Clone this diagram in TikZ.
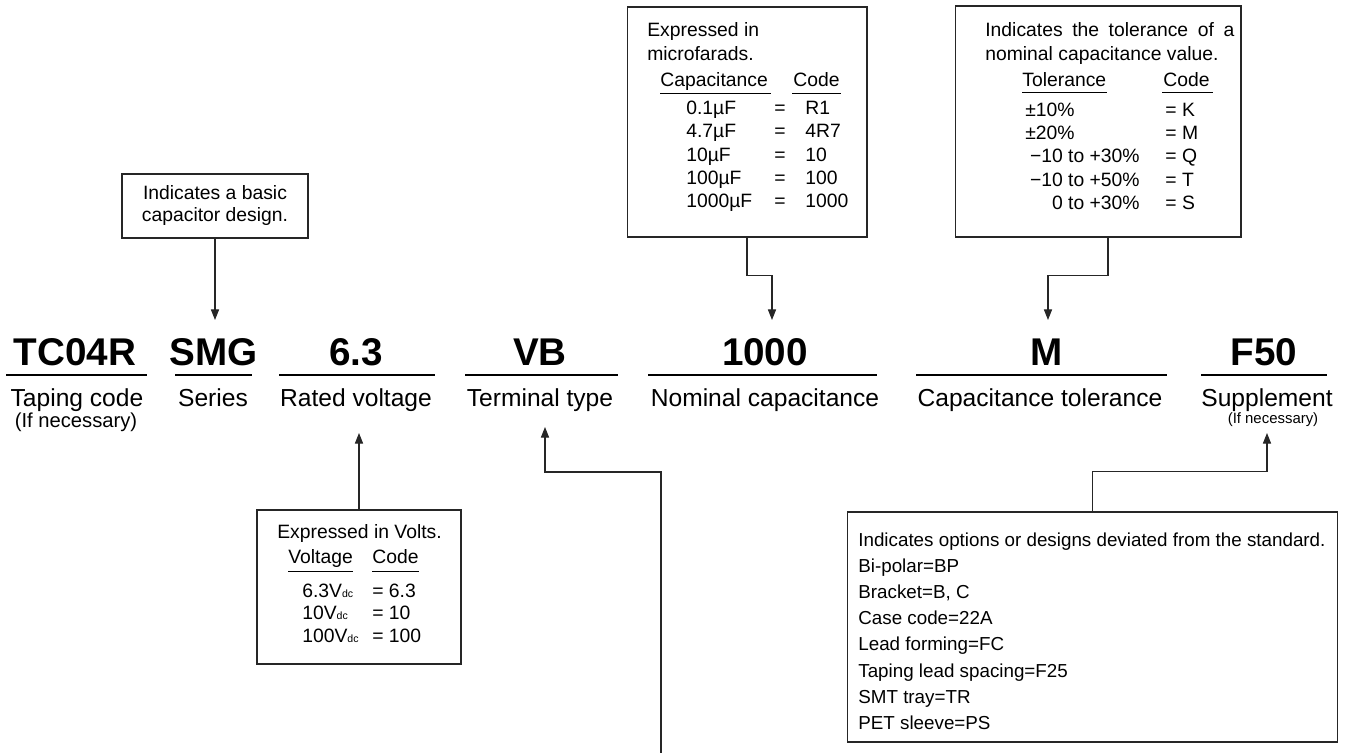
\documentclass[tikz,border=0pt]{standalone}
\usepackage{fontspec}
\setmainfont{Liberation Sans}
\usetikzlibrary{arrows.meta,calc}

\newcommand\codesize{\fontsize{22}{26}\selectfont\bfseries}
\newcommand\labsize{\fontsize{14}{16}\selectfont}
\newcommand\notesize{\fontsize{11.5}{13}\selectfont}
\newcommand\tinynote{\fontsize{8.5}{10}\selectfont}
\newcommand\boxsize{\fontsize{11}{13}\selectfont}
\newcommand\supsize{\fontsize{10.7}{13}\selectfont}
\newcommand\dcsub{{\fontsize{6}{6}\selectfont dc}}

\begin{document}
\begin{tikzpicture}[x=0.02cm,y=-0.02cm,
  every node/.style={inner sep=0pt},
  infobox/.style={draw=black!85,line width=0.6pt},
  code/.style={font=\codesize,anchor=base},
  lab/.style={font=\labsize,anchor=base},
  txt/.style={font=\boxsize,anchor=base west},
  arr/.style={draw=black!85,line width=0.6pt,-{Triangle[length=6pt,width=4.6pt]}},
  uline/.style={line width=0.8pt}]
\useasboundingbox (0,0) rectangle (1353,753);
%\draw [red!40,step=1cm] (0,0) grid (1353,753);

% part number
\node[code] (taping) at (75,365) {TC04R};
\node[code] (series) at (214,365) {SMG};
\node[code] (volt) at (356,365) {6.3};
\node[code] (term) at (540,365) {VB};
\node[code] (cap) at (765,365) {1000};
\node[code] (tol) at (1047,365) {M};
\node[code] (supp) at (1264,365) {F50};
\draw[uline] (6,375) -- (147,375);
\draw[uline] (175,375) -- (252,375);
\draw[uline] (279,375) -- (435,375);
\draw[uline] (465,375) -- (618,375);
\draw[uline] (648,375) -- (877,375);
\draw[uline] (916,375) -- (1167,375);
\draw[uline] (1201,375) -- (1327,375);

\node[lab] (tapinglab) at (77,406) {Taping code};
\node[anchor=base,font=\notesize] (tapingnote) at (76,427) {(If necessary)};
\node[lab] (serieslab) at (213,406) {Series};
\node[lab] (voltlab) at (356,406) {Rated voltage};
\node[lab] (termlab) at (540,406) {Terminal type};
\node[lab] (caplab) at (765,406) {Nominal capacitance};
\node[lab] (tollab) at (1040,406) {Capacitance tolerance};
\node[lab] (supplab) at (1267,406) {Supplement};
\node[anchor=base,font=\tinynote] (suppnote) at (1273,423) {(If necessary)};

% series
\node[infobox,minimum width=3.72cm,minimum height=1.28cm] (smgbox) at (215,206) {};
\node[anchor=base,font=\boxsize] (smgtxt1) at (215,200) {Indicates a basic};
\node[anchor=base,font=\boxsize] (smgtxt2) at (215,222) {capacitor design.};

% capacitance
\node[infobox,minimum width=4.8cm,minimum height=4.6cm] (capbox) at (747,122) {};
\node[txt] (captxt1) at (647,37) {Expressed in};
\node[txt] (captxt2) at (647,61) {microfarads.};
\node[txt] (caphd1) at (660,87) {Capacitance};
\node[txt] (caphd2) at (793,87) {Code};
\draw ($(caphd1.base west)+(0,6)$) -- ($(caphd1.base east)+(3,6)$);
\draw ($(caphd2.base west)+(-1,6)$) -- ($(caphd2.base east)+(1,6)$);
\node[txt] (capv1) at (686,115) {0.1µF};
\node[txt] (capv2) at (686,138) {4.7µF};
\node[txt] (capv3) at (686,162) {10µF};
\node[txt] (capv4) at (686,185) {100µF};
\node[txt] (capv5) at (686,208) {1000µF};
\node[txt] (cape1) at (774,115) {=};
\node[txt] (cape2) at (774,138) {=};
\node[txt] (cape3) at (774,162) {=};
\node[txt] (cape4) at (774,185) {=};
\node[txt] (cape5) at (774,208) {=};
\node[txt] (capc1) at (805,115) {R1};
\node[txt] (capc2) at (805,138) {4R7};
\node[txt] (capc3) at (805,162) {10};
\node[txt] (capc4) at (805,185) {100};
\node[txt] (capc5) at (805,208) {1000};

% tolerance
\node[infobox,minimum width=5.72cm,minimum height=4.62cm] (tolbox) at (1098,121.5) {};
\node[txt] (toltxt1) at (985,37) {\hbox to 4.98cm{Indicates the tolerance of a}};
\node[txt] (toltxt2) at (985,61) {nominal capacitance value.};
\node[txt] (tolhd1) at (1022,87) {Tolerance};
\node[txt] (tolhd2) at (1163,87) {Code};
\draw ($(tolhd1.base west)+(0,5)$) -- ($(tolhd1.base east)+(0,5)$);
\draw ($(tolhd2.base west)+(-1,5)$) -- ($(tolhd2.base east)+(3,5)$);
\node[txt] (tolv1) at (1025,117) {±10\%};
\node[txt] (tolv2) at (1025,140) {±20\%};
\node[txt,anchor=base east] (tolv3) at (1140,163) {−10 to +30\%};
\node[txt,anchor=base east] (tolv4) at (1140,187) {−10 to +50\%};
\node[txt,anchor=base east] (tolv5) at (1140,210) {0 to +30\%};
\node[txt] (tolc1) at (1165,117) {= K};
\node[txt] (tolc2) at (1165,140) {= M};
\node[txt] (tolc3) at (1165,163) {= Q};
\node[txt] (tolc4) at (1165,187) {= T};
\node[txt] (tolc5) at (1165,210) {= S};

% rated voltage
\node[infobox,minimum width=4.08cm,minimum height=3.08cm] (voltbox) at (359,587) {};
\node[txt] (volttxt) at (277,538) {Expressed in Volts.};
\node[txt] (volthd1) at (288,563) {Voltage};
\node[txt] (volthd2) at (372,563) {Code};
\draw ($(volthd1.base west)+(0,8)$) -- ($(volthd1.base east)+(0,8)$);
\draw ($(volthd2.base west)+(0,8)$) -- ($(volthd2.base east)+(0,8)$);
\node[txt] (voltv1) at (302,597) {6.3V\dcsub};
\node[txt] (voltv2) at (302,619) {10V\dcsub};
\node[txt] (voltv3) at (302,642) {100V\dcsub};
\node[txt] (voltc1) at (372,597) {= 6.3};
\node[txt] (voltc2) at (372,619) {= 10};
\node[txt] (voltc3) at (372,642) {= 100};

% supplement
\node[infobox,minimum width=9.82cm,minimum height=4.6cm] (supbox) at (1092.5,627) {};
\node[txt,font=\supsize] (suptxt1) at (858,546) {Indicates options or designs deviated from the standard.};
\node[txt,font=\supsize] (suptxt2) at (858,572) {Bi-polar=BP};
\node[txt,font=\supsize] (suptxt3) at (858,598) {Bracket=B, C};
\node[txt,font=\supsize] (suptxt4) at (858,624) {Case code=22A};
\node[txt,font=\supsize] (suptxt5) at (858,650) {Lead forming=FC};
\node[txt,font=\supsize] (suptxt6) at (858,677) {Taping lead spacing=F25};
\node[txt,font=\supsize] (suptxt7) at (858,703) {SMT tray=TR};
\node[txt,font=\supsize] (suptxt8) at (858,729) {PET sleeve=PS};

% connectors
\coordinate (tipS) at (215,320);
\coordinate (tipC) at (772,320);
\coordinate (tipT) at (1048,320);
\coordinate (tipV) at (359,433);
\coordinate (tipVB) at (545,427);
\coordinate (vbend) at (661,753);
\coordinate (tipF) at (1267,433);
\draw[arr] (smgbox) -- (tipS);
\draw[arr] (capbox.south) -- ++(0,38) -| (tipC);
\draw[arr] ($(tolbox.south)+(10,0)$) -- ++(0,38) -| (tipT);
\draw[arr] (voltbox) -- (tipV);
\draw[arr] (vbend) -- ++(0,-281) -| (tipVB);
\draw[arr] (supbox.north) -- ++(0,-40) -| (tipF);
\end{tikzpicture}
\end{document}
